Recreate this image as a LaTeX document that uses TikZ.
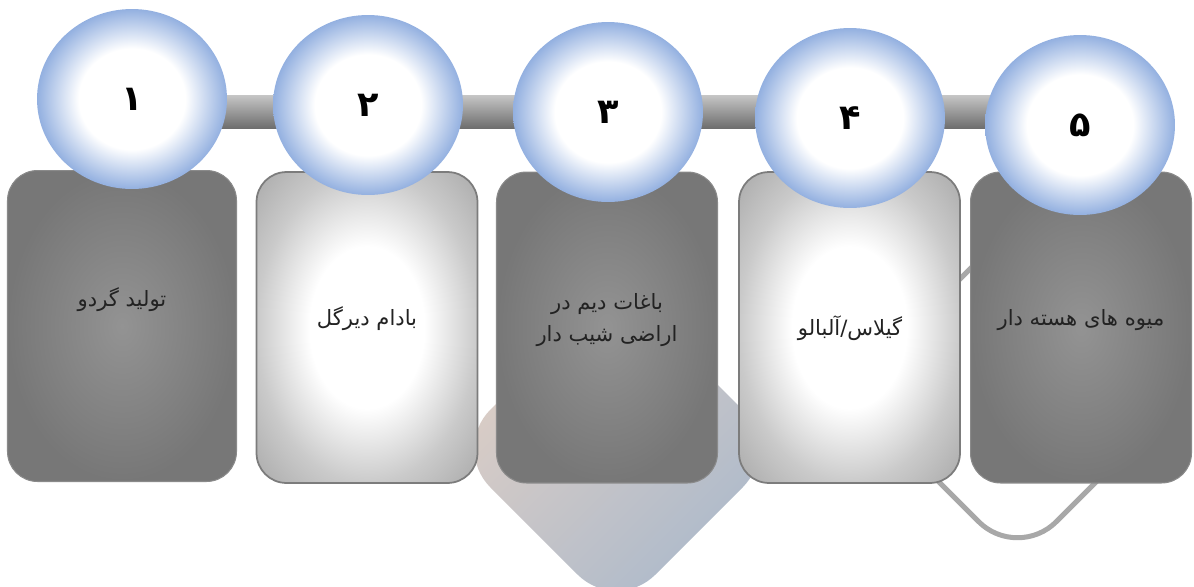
\documentclass[tikz,border=0pt]{standalone}
\usepackage{fontspec}
\usetikzlibrary{shapes.geometric, backgrounds, shadings}
\TeXXeTstate=1
\newfontfamily\farsifont[Script=Arabic]{DejaVu Sans}
\definecolor{Bubble}{HTML}{93B0E0}
\definecolor{DarkMid}{HTML}{939393}
\definecolor{DarkEdge}{HTML}{777777}
\definecolor{LightEdge}{HTML}{CACACA}
\definecolor{LightCorner}{HTML}{A8A8A8}
\definecolor{BarTop}{HTML}{C6C6C6}
\definecolor{BarBottom}{HTML}{6E6E6E}
\definecolor{Loop}{HTML}{A8A8A8}
\definecolor{Peach}{HTML}{EBD4C4}
\definecolor{Slate}{HTML}{9FB4CC}
\definecolor{Black90}{HTML}{222222}
\definecolor{Black60}{HTML}{8A8A8A}
\definecolor{Black50}{HTML}{7C7C7C}
\pgfdeclareradialshading{bubbleshade}{\pgfpointorigin}{color(0bp)=(white); color(14bp)=(white); color(25bp)=(Bubble); color(50bp)=(Bubble)}
\pgfdeclareradialshading{darkshade}{\pgfpointorigin}{color(0bp)=(DarkMid); color(25bp)=(DarkEdge); color(50bp)=(DarkEdge)}
\pgfdeclareradialshading{lightshade}{\pgfpointorigin}{color(0bp)=(white); color(13bp)=(white); color(25bp)=(LightEdge); color(36bp)=(LightCorner); color(50bp)=(LightCorner)}
\tikzset{
  bubble/.style={ellipse, shade, shading=bubbleshade, inner sep=0pt,
                 minimum width=3.8cm, minimum height=3.6cm,
                 font=\farsifont\bfseries\fontsize{20}{22}\selectfont, text=black},
  itembox/.style={rectangle, shade, rounded corners=0.6cm, inner sep=0pt,
                  minimum width=4.42cm, minimum height=6.22cm},
  darkbox/.style={itembox, shading=darkshade, draw=Black60, line width=0.6pt},
  lightbox/.style={itembox, shading=lightshade, draw=Black50, line width=1pt},
  boxtext/.style={font=\farsifont\fontsize{12}{18}\selectfont, align=center, text=Black90},
}
\begin{document}
\begin{tikzpicture}[x=0.02cm, y=-0.02cm]
  \useasboundingbox (0,0) rectangle (1194,586);
  % boxes
  \node[darkbox, minimum width=4.58cm] (b1) at (122,326) {};
  \node[lightbox] (b2) at (367,327.5) {};
  \node[darkbox] (b3) at (607,327.5) {};
  \node[lightbox] (b4) at (849.5,327.5) {};
  \node[darkbox] (b5) at (1081,327.5) {};
  \node[boxtext] (t1) at (122,300) {\beginR تولید گردو\endR};
  \node[boxtext] (t2) at (367,319) {\beginR بادام دیرگل\endR};
  \node[boxtext] (t3) at (607,320) {\beginR باغات دیم در\endR\\\beginR اراضی شیب دار\endR};
  \node[boxtext] (t4) at (850,328) {\beginR گیلاس/آلبالو\endR};
  \node[boxtext] (t5) at (1081,320) {\beginR میوه های هسته دار\endR};
  % numbered bubbles
  \node[bubble] (n1) at (132,99) {۱};
  \node[bubble] (n2) at (368,105) {۲};
  \node[bubble] (n3) at (608,112) {۳};
  \node[bubble] (n4) at (850,118) {۴};
  \node[bubble] (n5) at (1080,125) {۵};
  \coordinate (bartop) at (0,95);
  \coordinate (barbot) at (0,128);
  \begin{scope}[on background layer]
    \shade[rounded corners=1.1cm, upper left=Peach, lower right=Slate,
           upper right=Peach!50!Slate, lower left=Peach!50!Slate]
      (616.5,283.5) -- (781.5,448.5) -- (616.5,613.5) -- (451.5,448.5) -- cycle;
    \draw[Loop, line width=0.1cm, rounded corners=1.1cm]
      (1017.5,221.5) -- (1187,391) -- (1017.5,560.5) -- (848,391) -- cycle;
    \shade[top color=BarTop, bottom color=BarBottom]
      (n1.center |- bartop) rectangle (n5.center |- barbot);
  \end{scope}
\end{tikzpicture}
\end{document}
